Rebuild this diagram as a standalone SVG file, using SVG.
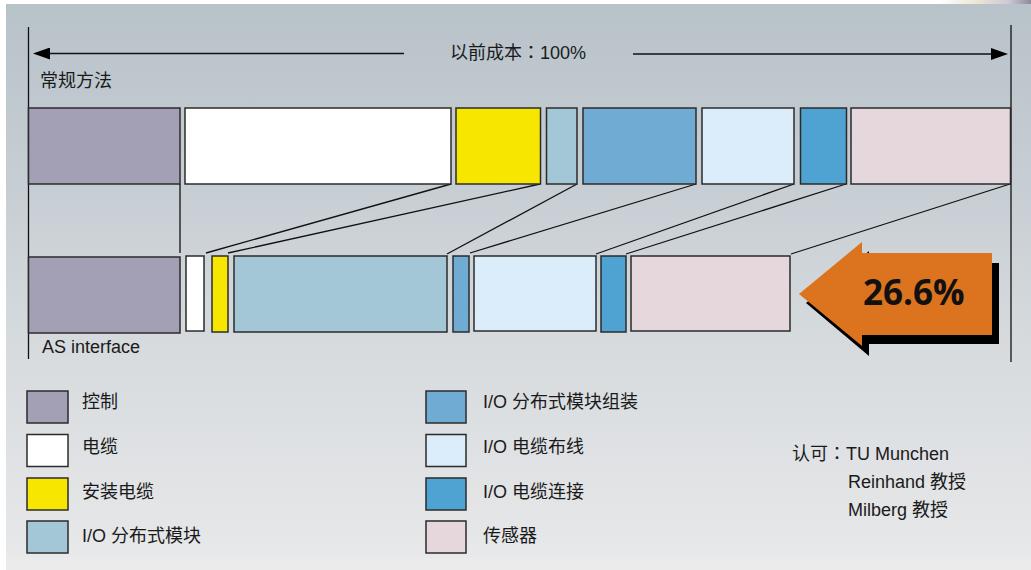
<svg xmlns="http://www.w3.org/2000/svg" width="1031" height="570" viewBox="0 0 1031 570">
<defs>
<linearGradient id="bg" x1="0" y1="0" x2="0" y2="1">
<stop offset="0" stop-color="#b8c2c9"/>
<stop offset="0.35" stop-color="#c8cfd4"/>
<stop offset="0.65" stop-color="#d8dcdf"/>
<stop offset="0.95" stop-color="#e5e6e8"/>
<stop offset="1" stop-color="#e8e9ea"/>
</linearGradient>
<linearGradient id="deco" x1="0" y1="0" x2="1" y2="0">
<stop offset="0" stop-color="#ffffff"/>
<stop offset="0.4" stop-color="#ece6d4"/>
<stop offset="0.75" stop-color="#cfc9d6"/>
<stop offset="1" stop-color="#8f8a9a"/>
</linearGradient>
<marker id="ah" viewBox="0 0 17 12" refX="7" refY="6" markerWidth="17" markerHeight="12" markerUnits="userSpaceOnUse" orient="auto">
<path d="M0,0 L17,6 L0,12 z" fill="#000"/>
</marker>
<style>
.bar{stroke:#2b2b2b;stroke-width:1.5}
.sw{stroke:#2b2b2b;stroke-width:1.5}
.c1{fill:#a39fb5}.c2{fill:#ffffff}.c3{fill:#f7e600}.c4{fill:#a3c7d6}
.c5{fill:#6fabd2}.c6{fill:#dbedfa}.c7{fill:#4fa3d3}.c8{fill:#e5d7db}
.t{font-family:"Liberation Sans","Noto Sans CJK SC",sans-serif;font-size:18px;fill:#1a1a1a}
.colon{font-family:"Noto Sans CJK JP","Noto Sans CJK TC",sans-serif}
.ln{stroke:#111;stroke-width:1.3;fill:none}
.big{font-family:"Open Sans","Lato",sans-serif;font-weight:700;font-size:35px;fill:#111}
</style>
</defs>
<rect x="0" y="0" width="1031" height="570" fill="#ebebeb"/>
<rect x="6" y="4" width="1025" height="554" fill="url(#bg)"/>
<rect x="0" y="0" width="6" height="570" fill="#ffffff"/>
<rect x="0" y="0" width="1031" height="4" fill="#ffffff"/>
<rect x="940" y="0" width="91" height="4" fill="url(#deco)"/>

<g id="connectors">
<line class="ln" x1="28.5" y1="27" x2="28.5" y2="359" stroke-width="2"/>
<line class="ln" x1="1011" y1="25" x2="1011" y2="362" stroke-width="2"/>
<line class="ln" x1="404" y1="53.5" x2="43" y2="53.5" stroke-width="1.6" marker-end="url(#ah)"/>
<line class="ln" x1="633" y1="54" x2="998" y2="54" stroke-width="1.6" marker-end="url(#ah)"/>
<line class="ln" x1="180" y1="184" x2="180" y2="253"/>
<line class="ln" x1="451" y1="184" x2="206" y2="253"/>
<line class="ln" x1="540" y1="184" x2="228" y2="253"/>
<line class="ln" x1="577" y1="184" x2="447" y2="254"/>
<line class="ln" x1="696" y1="184" x2="470" y2="253"/>
<line class="ln" x1="794" y1="184" x2="596" y2="254"/>
<line class="ln" x1="846" y1="184" x2="626" y2="254"/>
<line class="ln" x1="1010" y1="184" x2="791" y2="254"/>
</g>

<g id="title">
<text class="t" x="450" y="59">以前成本<tspan class="colon">：</tspan>100%</text>
</g>
<g id="label-conventional">
<text class="t" x="40" y="87">常规方法</text>
</g>
<g id="label-as">
<text class="t" x="42" y="353">AS interface</text>
</g>

<g id="row-conventional">
<rect id="top-control" class="bar c1" x="28.5" y="108" width="151.5" height="76"/>
<rect id="top-cable" class="bar c2" x="185" y="108" width="266" height="76"/>
<rect id="top-install" class="bar c3" x="456" y="108" width="84.5" height="76"/>
<rect id="top-io" class="bar c4" x="546.5" y="108" width="30.5" height="76"/>
<rect id="top-ioasm" class="bar c5" x="583" y="108" width="113" height="76"/>
<rect id="top-iowire" class="bar c6" x="702" y="108" width="92" height="76"/>
<rect id="top-ioconn" class="bar c7" x="800.5" y="108" width="46" height="76"/>
<rect id="top-sensor" class="bar c8" x="851" y="108" width="159.5" height="76"/>
</g>

<g id="row-as">
<rect id="as-control" class="bar c1" x="28.5" y="257" width="151.5" height="76"/>
<rect id="as-cable" class="bar c2" x="186" y="256" width="18" height="75"/>
<rect id="as-install" class="bar c3" x="212" y="256" width="16" height="76"/>
<rect id="as-io" class="bar c4" x="234" y="256" width="213" height="76"/>
<rect id="as-ioasm" class="bar c5" x="453" y="256" width="16" height="76"/>
<rect id="as-iowire" class="bar c6" x="474" y="256" width="122" height="75"/>
<rect id="as-ioconn" class="bar c7" x="601" y="256" width="25" height="76"/>
<rect id="as-sensor" class="bar c8" x="631" y="256" width="159" height="75"/>
</g>

<g id="saving-arrow">
<polygon points="806,303 869,251 869,263 999,263 999,344 869,344 869,356" fill="#000"/>
<polygon points="799,294 862,242 862,253 992,253 992,335 862,335 862,346" fill="#dc741f"/>
<text class="big" x="863" y="305">26.6%</text>
</g>

<g id="legend-control"><rect class="sw c1" x="27" y="391" width="41" height="32"/><text class="t" x="82" y="408">控制</text></g>
<g id="legend-cable"><rect class="sw c2" x="27" y="434.5" width="41" height="32"/><text class="t" x="82" y="452.5">电缆</text></g>
<g id="legend-install"><rect class="sw c3" x="27" y="478" width="41" height="32"/><text class="t" x="82" y="497.5">安装电缆</text></g>
<g id="legend-io"><rect class="sw c4" x="27" y="521" width="41" height="32"/><text class="t" x="82" y="542">I/O 分布式模块</text></g>
<g id="legend-ioasm"><rect class="sw c5" x="426" y="391" width="40" height="32"/><text class="t" x="483" y="408">I/O 分布式模块组装</text></g>
<g id="legend-iowire"><rect class="sw c6" x="426" y="434.5" width="40" height="32"/><text class="t" x="483" y="452.5">I/O 电缆布线</text></g>
<g id="legend-ioconn"><rect class="sw c7" x="426" y="478" width="40" height="32"/><text class="t" x="483" y="497.5">I/O 电缆连接</text></g>
<g id="legend-sensor"><rect class="sw c8" x="426" y="521" width="40" height="32"/><text class="t" x="483" y="542">传感器</text></g>

<g id="approval">
<text class="t" x="792" y="460">认可<tspan class="colon">：</tspan>TU Munchen</text>
<text class="t" x="848" y="488">Reinhand 教授</text>
<text class="t" x="848" y="516">Milberg 教授</text>
</g>
</svg>
